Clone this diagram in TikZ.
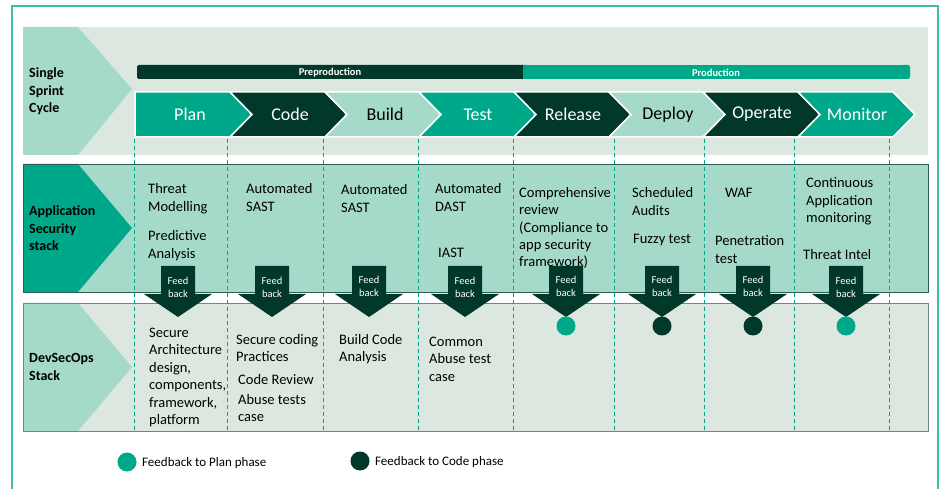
\documentclass[tikz,border=0pt]{standalone}
\usepackage{fontspec}
\setmainfont{Carlito}
\usepackage{tikz}

\definecolor{dsoteal}{HTML}{00A88A}
\definecolor{dsodark}{HTML}{02382A}
\definecolor{dsolight}{HTML}{A5DACB}
\definecolor{dsopale}{HTML}{DCE8DF}
\definecolor{dsoframe}{HTML}{3DBFA5}
\definecolor{dsoline}{HTML}{2E5E50}
\definecolor{dsogrey}{HTML}{6E8A80}

\begin{document}
\begin{tikzpicture}[x=1pt,y=-1pt]
\tikzstyle{txt}=[font=\fontsize{14.5}{17.5}\selectfont,align=left,anchor=base west,inner sep=0pt]
\tikzstyle{rowhead}=[font=\bfseries\fontsize{14}{17.5}\selectfont,align=left,anchor=base west,inner sep=0pt]
\tikzstyle{phase}=[font=\fontsize{18}{20}\selectfont,inner sep=0pt,text=white]
\tikzstyle{bar}=[font=\bfseries\fontsize{10.5}{12}\selectfont,inner sep=0pt,text=white]
\tikzstyle{fb}=[font=\fontsize{10.5}{13}\selectfont,align=center,text=white,inner sep=0pt]
\tikzstyle{fbdot}=[circle,minimum size=19pt,inner sep=0pt]
\tikzstyle{key}=[font=\fontsize{13}{15}\selectfont,anchor=base west,inner sep=0pt]
\tikzstyle{guide}=[draw=dsoteal,line width=1pt,dash pattern=on 4pt off 3pt]
\tikzstyle{chev}=[draw=white,line width=1.5pt]
\tikzstyle{fbarrow}=[fill=dsodark]

\useasboundingbox (0,0) rectangle (943,489);
% outer frame
\draw[dsoframe,line width=1.5pt] (12,489) -- (12,6) -- (938,6) -- (938,489);

% rows
\fill[dsopale] (23,27) rectangle (928,155);
\fill[dsolight] (23,27) -- (78,27) -- (132,89) -- (78,155) -- (23,155) -- cycle;
\fill[dsolight] (23,164) rectangle (928,292);
\fill[dsoteal] (23,164) -- (78,164) -- (132,228) -- (78,292) -- (23,292) -- cycle;
\draw[dsoline,line width=0.8pt] (23,164) rectangle (928,292);
\fill[dsopale] (23,303) rectangle (928,431);
\fill[dsolight] (23,303) -- (78,303) -- (132,367) -- (78,431) -- (23,431) -- cycle;
\draw[dsogrey,line width=0.8pt] (23,303) rectangle (928,431);

% (multi-line nodes sit on the baseline of their last line)
\node[rowhead] (single) at (29,113) {Single\\Sprint\\Cycle};
\node[rowhead] (appsec) at (29,251) {Application\\Security\\stack};
\node[rowhead] (devsecops) at (29,380.5) {DevSecOps\\Stack};

% preproduction / production bars
\fill[dsodark,rounded corners=2pt] (137,65) rectangle (528,79);
\fill[dsoteal] (523,65) rectangle (905,79);
\fill[dsoteal,rounded corners=2pt] (900,65) rectangle (910,79);
\node[bar] (preprod) at (330,72.5) {Preproduction};
\node[bar] (prod) at (716,72.5) {Production};

% phases
\filldraw[chev,fill=dsoteal] (135,92) -- (230,92) -- (252,114.5) -- (230,137) -- (135,137) -- cycle;
\filldraw[chev,fill=dsodark] (230,92) -- (325,92) -- (347,114.5) -- (325,137) -- (230,137) -- (252,114.5) -- cycle;
\filldraw[chev,fill=dsolight] (325,92) -- (419,92) -- (441,114.5) -- (419,137) -- (325,137) -- (347,114.5) -- cycle;
\filldraw[chev,fill=dsoteal] (419,92) -- (514,92) -- (536,114.5) -- (514,137) -- (419,137) -- (441,114.5) -- cycle;
\filldraw[chev,fill=dsodark] (514,92) -- (609,92) -- (631,114.5) -- (609,137) -- (514,137) -- (536,114.5) -- cycle;
\filldraw[chev,fill=dsolight] (609,92) -- (703,92) -- (725,114.5) -- (703,137) -- (609,137) -- (631,114.5) -- cycle;
\filldraw[chev,fill=dsodark] (703,92) -- (798,92) -- (820,114.5) -- (798,137) -- (703,137) -- (725,114.5) -- cycle;
\filldraw[chev,fill=dsoteal] (798,92) -- (893,92) -- (915,114.5) -- (893,137) -- (798,137) -- (820,114.5) -- cycle;
\node[phase] (plan) at (190,114.5) {Plan};
\node[phase] (code) at (290,114.5) {Code};
\node[phase,text=black] (build) at (385,114.5) {Build};
\node[phase] (test) at (478,114.5) {Test};
\node[phase] (release) at (573,114.5) {Release};
\node[phase,text=black] (deploy) at (668,114.5) {Deploy};
\node[phase] (operate) at (762,114.5) {Operate};
\node[phase] (monitor) at (857,114.5) {Monitor};

% column guides
\draw[guide] (134,139) -- (134,430);
\draw[guide] (227,139) -- (227,430);
\draw[guide] (323,139) -- (323,430);
\draw[guide] (418,139) -- (418,430);
\draw[guide] (513,139) -- (513,430);
\draw[guide] (614,139) -- (614,430);
\draw[guide] (704,139) -- (704,430);
\draw[guide] (794,139) -- (794,430);
\draw[guide] (889,139) -- (889,430);

% application security stack
\node[txt] (threat) at (148,211.5) {Threat\\Modelling};
\node[txt] (predict) at (148,258.5) {Predictive\\Analysis};
\node[txt] (sast1) at (246,211.5) {Automated\\SAST};
\node[txt] (sast2) at (341,212.5) {Automated\\SAST};
\node[txt] (dast) at (435,211.5) {Automated\\DAST};
\node[txt] (iast) at (438,258) {IAST};
\node[txt] (review) at (519,267) {Comprehensive\\review\\(Compliance to\\app security\\framework)};
\node[txt] (audits) at (632,215.5) {Scheduled\\Audits};
\node[txt] (fuzzy) at (633,244) {Fuzzy test};
\node[txt] (waf) at (725,198) {WAF};
\node[txt] (pentest) at (715,263.5) {Penetration\\test};
\node[txt] (contmon) at (806,223) {Continuous\\Application\\monitoring};
\node[txt] (intel) at (803,260) {Threat Intel};

% feedback arrows
\fill[fbarrow] (161,266) -- (195,266) -- (195,294) -- (212,294) -- (178,317) -- (144,294) -- (161,294) -- cycle;
\fill[fbarrow] (255,266) -- (289,266) -- (289,294) -- (306,294) -- (272,317) -- (238,294) -- (255,294) -- cycle;
\fill[fbarrow] (352,266) -- (386,266) -- (386,294) -- (403,294) -- (369,317) -- (335,294) -- (352,294) -- cycle;
\fill[fbarrow] (448,266) -- (482,266) -- (482,294) -- (499,294) -- (465,317) -- (431,294) -- (448,294) -- cycle;
\fill[fbarrow] (549,266) -- (583,266) -- (583,294) -- (600,294) -- (566,317) -- (532,294) -- (549,294) -- cycle;
\fill[fbarrow] (645,266) -- (679,266) -- (679,294) -- (696,294) -- (662,317) -- (628,294) -- (645,294) -- cycle;
\fill[fbarrow] (736,266) -- (770,266) -- (770,294) -- (787,294) -- (753,317) -- (719,294) -- (736,294) -- cycle;
\fill[fbarrow] (829,266) -- (863,266) -- (863,294) -- (880,294) -- (846,317) -- (812,294) -- (829,294) -- cycle;
\node[fb] (fb1) at (178,287) {Feed\\back};
\node[fb] (fb2) at (272,287) {Feed\\back};
\node[fb] (fb3) at (369,286) {Feed\\back};
\node[fb] (fb4) at (465,287) {Feed\\back};
\node[fb] (fb5) at (566,286) {Feed\\back};
\node[fb] (fb6) at (662,286) {Feed\\back};
\node[fb] (fb7) at (753,286) {Feed\\back};
\node[fb] (fb8) at (846,287) {Feed\\back};

% devsecops stack
\node[txt] (archi) at (149,424.5) {Secure\\Architecture\\design,\\components,\\framework,\\platform};
\node[txt] (coding) at (236,361.5) {Secure coding\\Practices};
\node[txt] (codereview) at (238,384) {Code Review};
\node[txt] (abuse) at (238,421.5) {Abuse tests\\case};
\node[txt] (buildcode) at (339,361.5) {Build Code\\Analysis};
\node[txt] (common) at (429,381) {Common\\Abuse test\\case};
\node[fbdot,fill=dsoteal] (d5) at (566,326) {};
\node[fbdot,fill=dsodark] (d6) at (662,326) {};
\node[fbdot,fill=dsodark] (d7) at (753,326) {};
\node[fbdot,fill=dsoteal] (d8) at (846,326) {};

% legend
\node[fbdot,fill=dsoteal] (keyplan) at (127,462) {};
\node[key] (keyplantxt) at (142,466.5) {Feedback to Plan phase};
\node[fbdot,fill=dsodark] (keycode) at (360,461) {};
\node[key] (keycodetxt) at (375,465.5) {Feedback to Code phase};
\end{tikzpicture}
\end{document}
